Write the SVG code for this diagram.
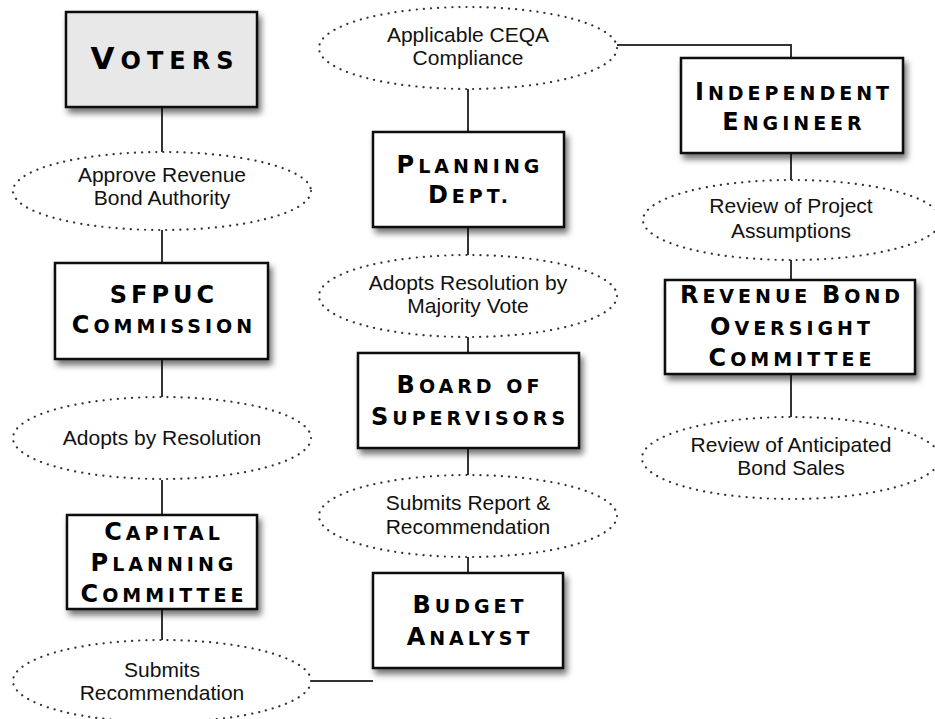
<svg xmlns="http://www.w3.org/2000/svg" width="935" height="719" viewBox="0 0 935 719">
  <defs>
    <filter id="shadow" x="-10%" y="-10%" width="130%" height="140%">
      <feDropShadow dx="3" dy="5" stdDeviation="3" flood-color="#000" flood-opacity="0.55"/>
    </filter>
    <style>
      .box { fill: #ffffff; stroke: #111; stroke-width: 2.5; filter: url(#shadow); }
      .box.main { fill: #e8e8e8; }
      .oval { fill: #ffffff; stroke: #333; stroke-width: 2.2; stroke-dasharray: 0.1 7; stroke-linecap: round; }
      .title { font-family: "DejaVu Sans", "Liberation Sans", sans-serif; font-weight: bold; font-size: 24px; letter-spacing: 4px; text-anchor: middle; fill: #000; }
      .title .sc { font-size: 19px; }
      .title.big { font-size: 31px; letter-spacing: 6px; }
      .title.big .sc { font-size: 24px; }
      .label { font-family: "Liberation Sans", Arial, sans-serif; font-size: 21px; text-anchor: middle; fill: #111; }
      .link { fill: none; stroke: #333; stroke-width: 2; }
    </style>
  </defs>
  <rect width="935" height="719" fill="#ffffff"/>

  <!-- connectors -->
  <g id="connectors">
    <line class="link" x1="162" y1="107" x2="162" y2="153"/>
    <line class="link" x1="162" y1="230" x2="162" y2="263"/>
    <line class="link" x1="162" y1="359" x2="162" y2="397"/>
    <line class="link" x1="162" y1="480" x2="162" y2="515"/>
    <line class="link" x1="162" y1="609" x2="162" y2="640"/>
    <polyline class="link" points="310,681 373,681"/>
    <line class="link" x1="468" y1="89" x2="468" y2="132"/>
    <line class="link" x1="468" y1="227" x2="468" y2="255"/>
    <line class="link" x1="468" y1="337" x2="468" y2="353"/>
    <line class="link" x1="468" y1="448" x2="468" y2="475"/>
    <line class="link" x1="468" y1="557" x2="468" y2="573"/>
    <polyline class="link" points="617,45 791,45 791,58"/>
    <line class="link" x1="791" y1="153" x2="791" y2="180"/>
    <line class="link" x1="791" y1="260" x2="791" y2="280"/>
    <line class="link" x1="791" y1="374" x2="791" y2="417"/>
  </g>

  <!-- left column -->
  <g id="voters">
    <rect class="box main" x="66" y="12" width="191" height="95"/>
    <text class="title big" x="165" y="69">V<tspan class="sc">OTERS</tspan></text>
  </g>
  <g id="approve-bond">
    <ellipse class="oval" cx="162" cy="191" rx="149" ry="39"/>
    <text class="label" x="162" y="182">Approve Revenue</text>
    <text class="label" x="162" y="205">Bond Authority</text>
  </g>
  <g id="sfpuc">
    <rect class="box" x="55" y="263" width="213" height="96"/>
    <text class="title" x="164" y="303">SFPUC</text>
    <text class="title" x="164" y="333">C<tspan class="sc">OMMISSION</tspan></text>
  </g>
  <g id="adopts-resolution">
    <ellipse class="oval" cx="162" cy="438" rx="149" ry="41"/>
    <text class="label" x="162" y="445">Adopts by Resolution</text>
  </g>
  <g id="capital-planning">
    <rect class="box" x="67" y="515" width="190" height="94"/>
    <text class="title" x="164" y="540">C<tspan class="sc">APITAL</tspan></text>
    <text class="title" x="164" y="571">P<tspan class="sc">LANNING</tspan></text>
    <text class="title" x="164" y="602">C<tspan class="sc">OMMITTEE</tspan></text>
  </g>
  <g id="submits-recommendation">
    <ellipse class="oval" cx="162" cy="681" rx="149" ry="41"/>
    <text class="label" x="162" y="677">Submits</text>
    <text class="label" x="162" y="700">Recommendation</text>
  </g>

  <!-- middle column -->
  <g id="ceqa">
    <ellipse class="oval" cx="468" cy="48" rx="149" ry="41"/>
    <text class="label" x="468" y="42">Applicable CEQA</text>
    <text class="label" x="468" y="65">Compliance</text>
  </g>
  <g id="planning-dept">
    <rect class="box" x="373" y="132" width="191" height="95"/>
    <text class="title" x="470" y="173">P<tspan class="sc">LANNING</tspan></text>
    <text class="title" x="470" y="203">D<tspan class="sc">EPT.</tspan></text>
  </g>
  <g id="adopts-majority">
    <ellipse class="oval" cx="468" cy="296" rx="149" ry="41"/>
    <text class="label" x="468" y="290">Adopts Resolution by</text>
    <text class="label" x="468" y="313">Majority Vote</text>
  </g>
  <g id="board-of-supervisors">
    <rect class="box" x="358" y="353" width="221" height="95"/>
    <text class="title" x="470" y="393">B<tspan class="sc">OARD OF</tspan></text>
    <text class="title" x="470" y="425">S<tspan class="sc">UPERVISORS</tspan></text>
  </g>
  <g id="submits-report">
    <ellipse class="oval" cx="468" cy="516" rx="149" ry="41"/>
    <text class="label" x="468" y="510">Submits Report &amp;</text>
    <text class="label" x="468" y="534">Recommendation</text>
  </g>
  <g id="budget-analyst">
    <rect class="box" x="373" y="573" width="190" height="95"/>
    <text class="title" x="470" y="613">B<tspan class="sc">UDGET</tspan></text>
    <text class="title" x="470" y="645">A<tspan class="sc">NALYST</tspan></text>
  </g>

  <!-- right column -->
  <g id="independent-engineer">
    <rect class="box" x="681" y="58" width="222" height="95"/>
    <text class="title" x="794" y="100">I<tspan class="sc">NDEPENDENT</tspan></text>
    <text class="title" x="794" y="130">E<tspan class="sc">NGINEER</tspan></text>
  </g>
  <g id="project-assumptions">
    <ellipse class="oval" cx="792" cy="220" rx="149" ry="40"/>
    <text class="label" x="791" y="213">Review of Project</text>
    <text class="label" x="791" y="238">Assumptions</text>
  </g>
  <g id="oversight-committee">
    <rect class="box" x="665" y="280" width="250" height="94"/>
    <text class="title" x="792" y="303">R<tspan class="sc">EVENUE </tspan>B<tspan class="sc">OND</tspan></text>
    <text class="title" x="792" y="335">O<tspan class="sc">VERSIGHT</tspan></text>
    <text class="title" x="792" y="366">C<tspan class="sc">OMMITTEE</tspan></text>
  </g>
  <g id="anticipated-sales">
    <ellipse class="oval" cx="791" cy="458" rx="149" ry="41"/>
    <text class="label" x="791" y="452">Review of Anticipated</text>
    <text class="label" x="791" y="475">Bond Sales</text>
  </g>
</svg>
